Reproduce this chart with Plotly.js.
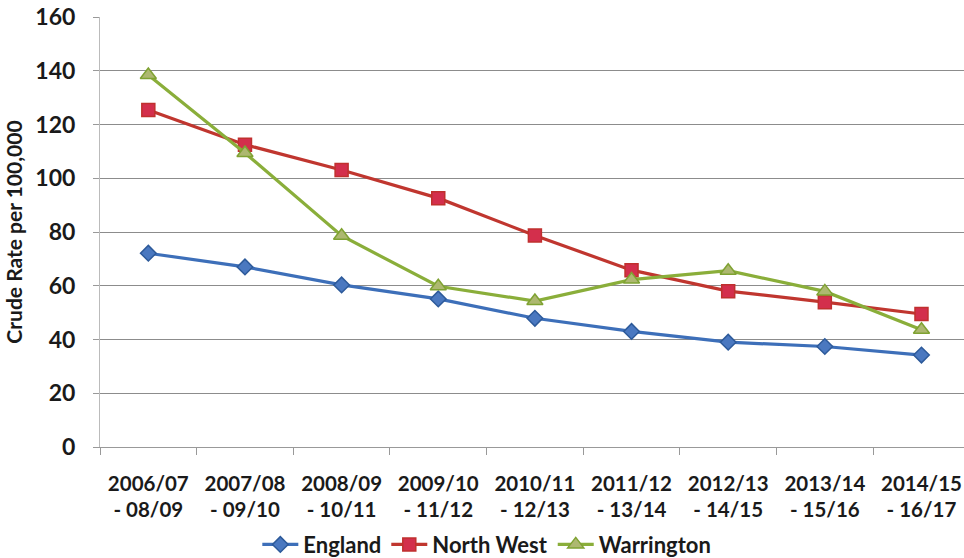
<!DOCTYPE html>
<html>
<head>
<meta charset="utf-8">
<script src="https://cdn.plot.ly/plotly-3.0.1.min.js"></script>
<style>html,body{margin:0;padding:0;background:#fff;}#chart{width:964px;height:558px;}</style>
</head>
<body>
<div id="chart"></div>
<script>
const categories = ["2006/07<br>- 08/09","2007/08<br>- 09/10","2008/09<br>- 10/11","2009/10<br>- 11/12","2010/11<br>- 12/13","2011/12<br>- 13/14","2012/13<br>- 14/15","2013/14<br>- 15/16","2014/15<br>- 16/17"];
const england = [72.1, 67.0, 60.3, 55.1, 47.9, 43.0, 39.0, 37.4, 34.2];
const northWest = [125.4, 112.5, 103.1, 92.6, 78.7, 65.8, 58.0, 53.9, 49.5];
const warrington = [138.4, 109.4, 78.6, 59.8, 54.3, 62.3, 65.6, 57.9, 43.6];
const yTicks = [0, 20, 40, 60, 80, 100, 120, 140, 160];

const F = "Lato, 'Open Sans', sans-serif";
const traces = [
  {x: categories, y: england, name: "England", type: "scatter", mode: "lines+markers",
   line: {color: "#3d6fb9", width: 3.2},
   marker: {symbol: "diamond", size: 12, color: "#4a78c0", line: {color: "#2d5a9a", width: 1.5}}},
  {x: categories, y: northWest, name: "North West", type: "scatter", mode: "lines+markers",
   line: {color: "#c0362f", width: 3.2},
   marker: {symbol: "square", size: 13, color: "#d32f4c", line: {color: "#c0302e", width: 1.5}}},
  {x: categories, y: warrington, name: "Warrington", type: "scatter", mode: "lines+markers",
   line: {color: "#8aae3a", width: 3.2},
   marker: {symbol: "triangle-up", size: 14, color: "#adb870", line: {color: "#7fa232", width: 1.5}}}
];

const layout = {
  width: 964, height: 558,
  paper_bgcolor: "#fff", plot_bgcolor: "#fff",
  margin: {l: 100, r: 0, t: 17, b: 111},
  showlegend: true,
  legend: {orientation: "h", xref: "container", yref: "container", x: 0.505, xanchor: "center", y: 0.024, yanchor: "middle",
           font: {family: F, size: 22, color: "#1a1a1a", weight: "bold"}, itemwidth: 36, tracegroupgap: 0},
  xaxis: {
    type: "category", range: [-0.5, 8.44], tickson: "boundaries", automargin: false,
    ticks: "outside", ticklen: 7, tickcolor: "#999", showline: true, linecolor: "#999", linewidth: 1,
    showgrid: false, zeroline: false, ticklabelstandoff: 18,
    tickfont: {family: F, size: 20.5, color: "#1a1a1a", weight: "bold"}
  },
  yaxis: {
    range: [0, 160], tickvals: yTicks, ticktext: yTicks.map(String), automargin: true,
    ticks: "outside", ticklen: 6, tickcolor: "#999", showline: true, linecolor: "#bbb", linewidth: 1,
    showgrid: true, gridcolor: "#8c8c8c", gridwidth: 1, zeroline: false, ticklabelstandoff: 13,
    tickfont: {family: F, size: 23, color: "#1a1a1a", weight: "bold"},
    title: {text: "Crude Rate per 100,000", font: {family: F, size: 21, color: "#1a1a1a", weight: "bold"}, standoff: 7}
  }
};

Plotly.newPlot("chart", traces, layout, {displayModeBar: false, staticPlot: true});
</script>
</body>
</html>
